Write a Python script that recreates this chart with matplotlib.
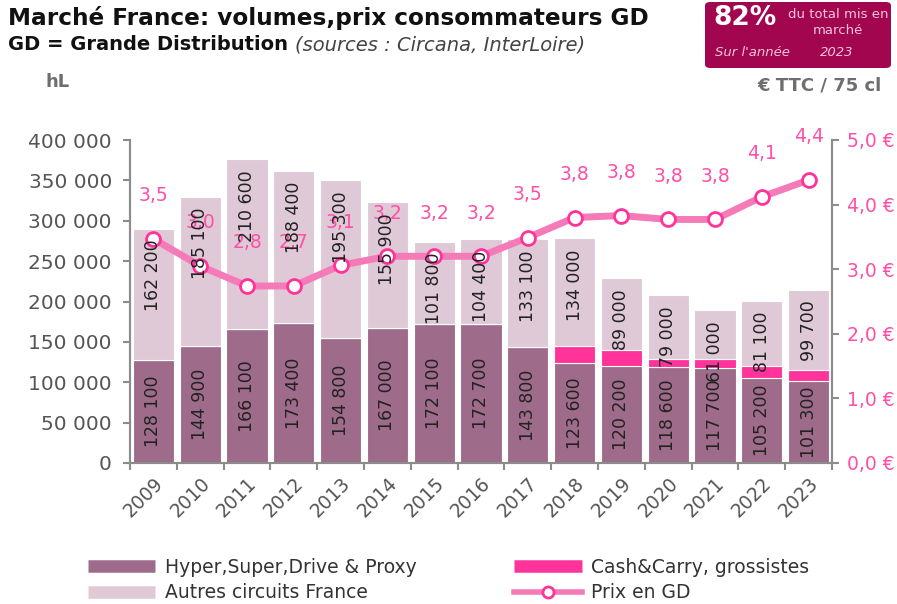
import matplotlib.pyplot as plt
import numpy as np
from matplotlib.lines import Line2D
from matplotlib.patches import FancyBboxPatch

years = ["2009", "2010", "2011", "2012", "2013", "2014", "2015", "2016",
         "2017", "2018", "2019", "2020", "2021", "2022", "2023"]
hyper = [128100, 144900, 166100, 173400, 154800, 167000, 172100, 172700,
         143800, 123600, 120200, 118600, 117700, 105200, 101300]
cash = [0, 0, 0, 0, 0, 0, 0, 0, 0, 20700, 20000, 10700, 10700, 14700, 13700]
autres = [162200, 185100, 210600, 188400, 195300, 155900, 101800, 104400,
          133100, 134000, 89000, 79000, 61000, 81100, 99700]
prix = [3.47, 3.05, 2.74, 2.74, 3.06, 3.2, 3.2, 3.2, 3.49, 3.8, 3.83, 3.77,
        3.77, 4.12, 4.38]
prix_labels = ["3,5", "3,0", "2,8", "2,7", "3,1", "3,2", "3,2", "3,2", "3,5",
               "3,8", "3,8", "3,8", "3,8", "4,1", "4,4"]

c_hyper = "#9e6b8a"
c_autres = "#dfc9d6"
c_cash = "#ff339a"
c_line = "#f57ab8"
c_pink = "#ff4fa6"
c_gray = "#555555"
c_axis = "#8c8c8c"

plt.rcParams['font.family'] = ['DejaVu Sans']

fig = plt.figure(figsize=(8.97, 6.04), dpi=100)
ax = fig.add_axes([130 / 897, 1 - 463 / 604, 702 / 897, 323 / 604])
ax2 = ax.twinx()

x = np.arange(len(years))
h = np.array(hyper)
c = np.array(cash)
a = np.array(autres)
w = 0.88
ax.bar(x, h, w, color=c_hyper, edgecolor="white", linewidth=0.8)
ax.bar(x, c, w, bottom=h, color=c_cash, edgecolor="white", linewidth=0.8)
ax.bar(x, a, w, bottom=h + c, color=c_autres, edgecolor="white", linewidth=0.8)

ax.set_xlim(-0.5, len(years) - 0.5)
ax.set_ylim(0, 400000)
ax.set_yticks(np.arange(0, 400001, 50000))
ax.set_yticklabels([f"{v:,}".replace(",", " ") for v in range(0, 400001, 50000)])
ax.set_xticks(x)
ax.set_xticklabels(years, rotation=45, ha="right", rotation_mode="anchor")
ax.set_xticks(np.arange(-0.5, len(years)), minor=True)
ax.tick_params(axis="x", which="major", length=0, pad=8, labelsize=13.5,
               labelcolor=c_gray)
ax.tick_params(axis="x", which="minor", length=5, width=1.5, color=c_axis)
ax.tick_params(axis="y", length=5, width=1.5, color=c_axis, labelsize=14.5,
               labelcolor=c_gray, pad=8)

ax2.set_ylim(0, 5.0)
ax2.set_yticks(np.arange(0, 5.01, 1.0))
ax2.set_yticklabels([f"{v:.1f} €".replace(".", ",") for v in np.arange(0, 5.01, 1.0)])
ax2.tick_params(axis="y", length=5, width=1.5, color=c_axis, labelsize=13.5,
                labelcolor=c_pink, pad=6)

for axis in (ax, ax2):
    axis.spines["top"].set_visible(False)
    for s in ("left", "right", "bottom"):
        axis.spines[s].set_color(c_axis)
        axis.spines[s].set_linewidth(1.5)

ax2.plot(x, prix, color=c_line, linewidth=5, marker="o", markersize=10,
         markerfacecolor="white", markeredgecolor=c_cash, markeredgewidth=2,
         zorder=3)
for i, (p, lab) in enumerate(zip(prix, prix_labels)):
    ax2.annotate(lab, (i, p), xytext=(0, 31), textcoords="offset points",
                 ha="center", va="center", color=c_pink, fontsize=13.5)

# bar value labels above the line
for i in range(len(years)):
    ax2.text(i, h[i] / 2, f"{hyper[i]:,}".replace(",", " "),
             transform=ax.transData, rotation=90, ha="center", va="center",
             fontsize=12.5, color="#222222", zorder=5)
    ax2.annotate(f"{autres[i]:,}".replace(",", " "),
                 (i, h[i] + c[i] + a[i]), xycoords=ax.transData,
                 xytext=(0, -8), textcoords="offset points", rotation=90,
                 ha="center", va="top", fontsize=12.5, color="#222222", zorder=5)

# titles
fig.text(8 / 897, 1 - 18 / 604, "Marché France: volumes,prix consommateurs GD",
         fontsize=16.7, fontweight="bold", color="#111111", va="center")
t = fig.text(8 / 897, 1 - 45 / 604, "GD = Grande Distribution ",
             fontsize=14, fontweight="bold", color="#111111", va="center")
fig.canvas.draw()
bb = t.get_window_extent()
fig.text(bb.x1 / fig.bbox.width, 1 - 45 / 604, "(sources : Circana, InterLoire)",
         fontsize=14, style="italic", color="#444444", va="center")
fig.text(45 / 897, 1 - 82 / 604, "hL", fontsize=13, fontweight="bold",
         color="#6e6e6e", va="center")
fig.text(882 / 897, 1 - 86 / 604, "€ TTC / 75 cl", fontsize=13,
         fontweight="bold", color="#6e6e6e", va="center", ha="right")

# top-right box
box = FancyBboxPatch((705 / 897, 1 - 68 / 604), 186 / 897, 66 / 604,
                     boxstyle="round,pad=0,rounding_size=0.006",
                     transform=fig.transFigure, facecolor="#a1064f",
                     edgecolor="none")
fig.patches.append(box)
fig.text(745 / 897, 1 - 18 / 604, "82%", fontsize=19, fontweight="bold",
         color="white", ha="center", va="center")
fig.text(838 / 897, 1 - 14 / 604, "du total mis en", fontsize=9.5,
         color="#f4c4dc", ha="center", va="center")
fig.text(838 / 897, 1 - 31 / 604, "marché", fontsize=9.5,
         color="#f4c4dc", ha="center", va="center")
fig.text(715 / 897, 1 - 53 / 604, "Sur l'année", fontsize=9.5, style="italic",
         color="#f4c4dc", ha="left", va="center")
fig.text(820 / 897, 1 - 53 / 604, "2023", fontsize=9.5, style="italic",
         color="#f4c4dc", ha="left", va="center")

# legend
handles = [
    Line2D([], [], color=c_hyper, linewidth=9, solid_capstyle="butt"),
    Line2D([], [], color=c_autres, linewidth=9, solid_capstyle="butt"),
    Line2D([], [], color=c_cash, linewidth=9, solid_capstyle="butt"),
    Line2D([], [], color=c_line, linewidth=4, marker="o", markersize=8,
           markerfacecolor="white", markeredgecolor=c_cash, markeredgewidth=2),
]
labels = ["Hyper,Super,Drive & Proxy", "Autres circuits France",
          "Cash&Carry, grossistes", "Prix en GD"]
fig.legend(handles, labels, ncol=2, loc="upper left",
           bbox_to_anchor=(71 / 897, 1 - 541 / 604), frameon=False,
           fontsize=13.5, handlelength=3.6, handletextpad=0.5,
           labelspacing=0.35, columnspacing=5.2, labelcolor="#333333")

fig.savefig("out.png", dpi=100)
